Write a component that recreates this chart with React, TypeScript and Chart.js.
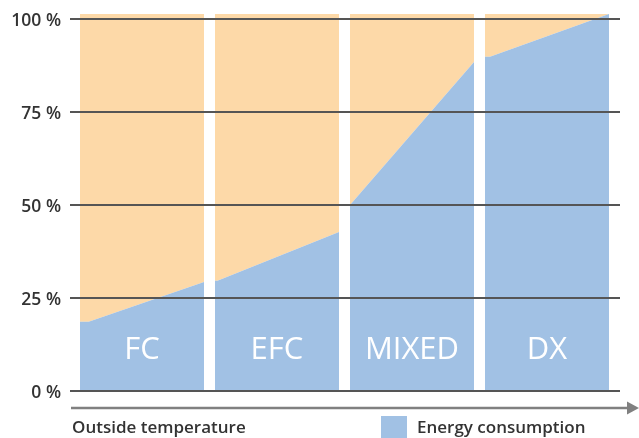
import React, { useEffect, useRef } from "react";
import { Chart, registerables } from "chart.js";

Chart.register(...registerables);

// ---- data ----
const categories = ["FC", "EFC", "MIXED", "DX"];
// energy consumption (%) at relative positions within each regime
const fcEnergy = [[0, 18.6], [0.07, 18.6], [1, 29.3]];
const efcEnergy = [[0, 29.6], [0.02, 29.6], [1, 42.7]];
const mixedEnergy = [[0, 50.0], [1, 88.4]];
const dxEnergy = [[0, 89.8], [0.04, 89.8], [1, 101.3]];
const yTicks = [0, 25, 50, 75, 100];
const xAxisTitle = "Outside temperature";
const legendLabel = "Energy consumption";

const BLUE = "#A1C1E4";
const ORANGE = "#FDD9A8";
const SECTION = 124 / 135; // fraction of a unit occupied by a regime (rest is gap)
const Y_MAX = 101.3;

const sections = [fcEnergy, efcEnergy, mixedEnergy, dxEnergy];

export default function App() {
  const ref = useRef<HTMLCanvasElement | null>(null);
  useEffect(() => {
    if (!ref.current) return;
    const datasets: any[] = [];
    sections.forEach((pts, i) => {
      const data = pts.map(([f, v]) => ({ x: i + f * SECTION, y: v }));
      datasets.push({
        data,
        borderWidth: 0,
        borderColor: "rgba(0,0,0,0)",
        backgroundColor: BLUE,
        fill: "origin",
        pointRadius: 0,
        tension: 0,
      });
      datasets.push({
        data,
        borderWidth: 0,
        borderColor: "rgba(0,0,0,0)",
        backgroundColor: ORANGE,
        fill: "end",
        pointRadius: 0,
        tension: 0,
      });
    });

    const overlay = {
      id: "overlay",
      afterDatasetsDraw(chart: any) {
        const { ctx, chartArea } = chart;
        const ys = chart.scales.y;
        const xs = chart.scales.x;
        ctx.save();
        // grid lines + tick labels
        ys.ticks.forEach((t: any) => {
          const py = Math.round(ys.getPixelForValue(t.value));
          ctx.strokeStyle = "#555555";
          ctx.lineWidth = 2;
          ctx.beginPath();
          ctx.moveTo(chartArea.left - 10, py);
          ctx.lineTo(chartArea.right + 11, py);
          ctx.stroke();
          ctx.fillStyle = "#333333";
          ctx.font = "600 17.5px 'Open Sans'";
          ctx.textAlign = "right";
          ctx.textBaseline = "alphabetic";
          ctx.fillText(`${t.value} %`, chartArea.left - 19, py + 7);
        });
        // regime labels
        ctx.fillStyle = "#ffffff";
        ctx.font = "500 31px 'Open Sans'";
        ctx.textAlign = "center";
        categories.forEach((c, i) => {
          const cx = (xs.getPixelForValue(i) + xs.getPixelForValue(i + SECTION)) / 2;
          ctx.fillText(c, cx, chartArea.bottom - 32);
        });
        // temperature arrow
        const ay = chartArea.bottom + 17;
        ctx.strokeStyle = "#808080";
        ctx.fillStyle = "#808080";
        ctx.lineWidth = 2.5;
        ctx.beginPath();
        ctx.moveTo(chartArea.left - 9, ay);
        ctx.lineTo(chartArea.right + 20, ay);
        ctx.stroke();
        ctx.beginPath();
        ctx.moveTo(chartArea.right + 18, ay - 6.5);
        ctx.lineTo(chartArea.right + 30, ay);
        ctx.lineTo(chartArea.right + 18, ay + 6.5);
        ctx.closePath();
        ctx.fill();
        // bottom texts
        ctx.fillStyle = "#333333";
        ctx.font = "600 17px 'Open Sans'";
        ctx.textAlign = "left";
        ctx.fillText(xAxisTitle, chartArea.left - 8, chartArea.bottom + 42);
        ctx.fillStyle = BLUE;
        ctx.fillRect(381, chartArea.bottom + 25, 26, 24);
        ctx.fillStyle = "#333333";
        ctx.fillText(legendLabel, 417, chartArea.bottom + 42);
        ctx.restore();
      },
    };

    const chart = new Chart(ref.current, {
      type: "line",
      data: { datasets },
      options: {
        animation: false,
        responsive: false,
        devicePixelRatio: 1,
        layout: { padding: { left: 80, top: 14, right: 30, bottom: 47 } },
        plugins: { legend: { display: false }, tooltip: { enabled: false }, filler: { propagate: false } },
        scales: {
          x: { type: "linear", min: 0, max: 3 + SECTION, display: false },
          y: {
            type: "linear",
            min: 0,
            max: Y_MAX,
            display: false,
            afterBuildTicks: (s: any) => {
              s.ticks = yTicks.map((v) => ({ value: v }));
            },
          },
        },
      },
      plugins: [overlay],
    } as any);
    return () => chart.destroy();
  }, []);
  return (
    <canvas
      ref={ref}
      width={639}
      height={438}
      style={{ position: "absolute", left: 0, top: 0, width: 639, height: 438 }}
    />
  );
}
